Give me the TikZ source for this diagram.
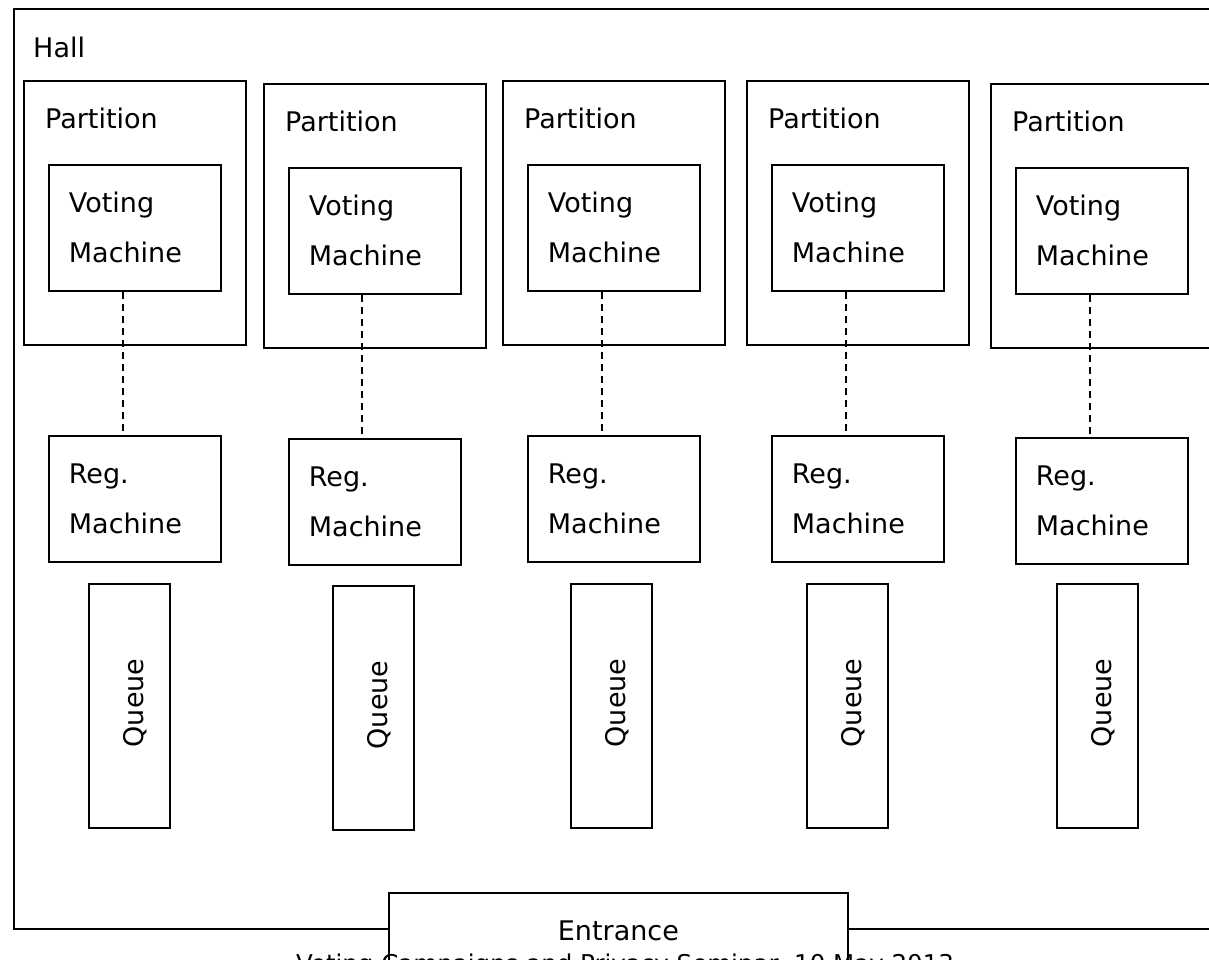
\documentclass[tikz,border=0pt]{standalone}
\usepackage{fontspec}
\setmainfont{DejaVu Sans}
\usetikzlibrary{positioning}

\tikzset{
  roombox/.style={draw, line width=1.8pt, rectangle, anchor=north west, inner sep=0pt},
  machbox/.style={draw, line width=1.8pt, rectangle, anchor=north west, minimum width=172, minimum height=126,
                  text width=132, inner xsep=20, inner ysep=0, align=left, font=\fontsize{27}{50}\selectfont},
  queuebox/.style={draw, line width=1.8pt, rectangle, anchor=north west, minimum width=81, minimum height=244, inner sep=0pt},
  lbl/.style={anchor=west, inner sep=0pt, font=\fontsize{27}{32}\selectfont},
  link/.style={line width=1.3pt, dash pattern={on 7pt off 5pt}}
}

\begin{document}
\begin{tikzpicture}[x=1pt,y=1pt,yscale=-1,xscale=1]

\useasboundingbox (0,0) rectangle (1209,959);

%Hall
\node [roombox, minimum width=1230, minimum height=920] (hall) at (13,8) {};
\node [lbl] (hall-text) at (33,47) {Hall};

%Partitions
\node [roombox, minimum width=222, minimum height=264] (part1) at (23,80) {};
\node [roombox, minimum width=222, minimum height=264] (part2) at (263,83) {};
\node [roombox, minimum width=222, minimum height=264] (part3) at (502,80) {};
\node [roombox, minimum width=222, minimum height=264] (part4) at (746,80) {};
\node [roombox, minimum width=240, minimum height=264] (part5) at (990,83) {};

% Text Node
\node [lbl] (part1-text) at (45,118) {Partition};
\node [lbl] (part2-text) at (285,121) {Partition};
\node [lbl] (part3-text) at (524,118) {Partition};
\node [lbl] (part4-text) at (768,118) {Partition};
\node [lbl] (part5-text) at (1012,121) {Partition};

%Voting machines
\node [machbox] (vote1) at (48,164) {Voting\\Machine};
\node [machbox] (vote2) at (288,167) {Voting\\Machine};
\node [machbox] (vote3) at (527,164) {Voting\\Machine};
\node [machbox] (vote4) at (771,164) {Voting\\Machine};
\node [machbox] (vote5) at (1015,167) {Voting\\Machine};

%Registration machines
\node [machbox] (reg1) at (48,435) {Reg.\\Machine};
\node [machbox] (reg2) at (288,438) {Reg.\\Machine};
\node [machbox] (reg3) at (527,435) {Reg.\\Machine};
\node [machbox] (reg4) at (771,435) {Reg.\\Machine};
\node [machbox] (reg5) at (1015,437) {Reg.\\Machine};

%Dashed links
\draw [link] ([xshift=-12pt]vote1.south) -- ([xshift=-12pt]reg1.north);
\draw [link] ([xshift=-13pt]vote2.south) -- ([xshift=-13pt]reg2.north);
\draw [link] ([xshift=-12pt]vote3.south) -- ([xshift=-12pt]reg3.north);
\draw [link] ([xshift=-12pt]vote4.south) -- ([xshift=-12pt]reg4.north);
\draw [link] ([xshift=-12pt]vote5.south) -- ([xshift=-12pt]reg5.north);

%Queues
\node [queuebox] (queue1) at (88,583) {};
\node [queuebox] (queue2) at (332,585) {};
\node [queuebox] (queue3) at (570,583) {};
\node [queuebox] (queue4) at (806,583) {};
\node [queuebox] (queue5) at (1056,583) {};

% Text Node
\node [lbl, anchor=center, rotate=90] (queue1-text) at (135,703) {Queue};
\node [lbl, anchor=center, rotate=90] (queue2-text) at (379,705) {Queue};
\node [lbl, anchor=center, rotate=90] (queue3-text) at (617,703) {Queue};
\node [lbl, anchor=center, rotate=90] (queue4-text) at (853,703) {Queue};
\node [lbl, anchor=center, rotate=90] (queue5-text) at (1103,703) {Queue};

%Entrance
\node [roombox, fill=white, minimum width=459, minimum height=76, font=\fontsize{27}{32}\selectfont] (entrance) at (388,892) {Entrance};

% Text Node
\node [lbl, anchor=center, font=\fontsize{24.5}{29}\selectfont] (caption) at (625,966) {Voting Campaigns and Privacy Seminar, 10 May 2013};

\end{tikzpicture}
\end{document}
